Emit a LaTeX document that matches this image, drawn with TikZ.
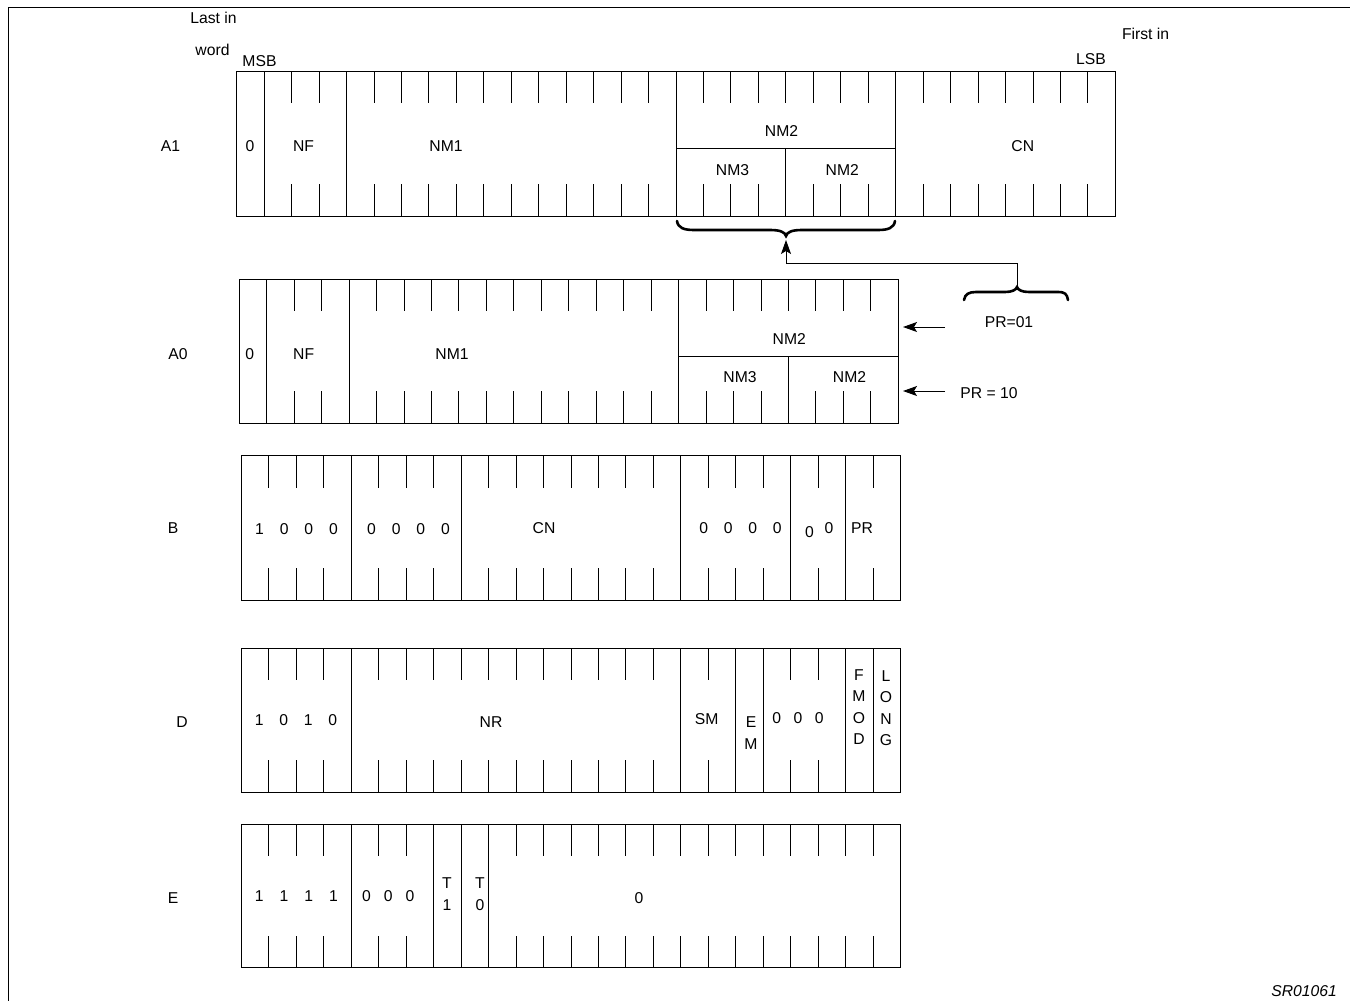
\documentclass[tikz,border=0pt]{standalone}
\usepackage{fontspec}
\setmainfont{Liberation Sans}
\usetikzlibrary{arrows.meta}
\newcommand\bw{27.46}
\newcommand\tl{32}
\tikzset{
  boxline/.style={line width=1pt},
  tickline/.style={line width=1pt},
  frameline/.style={line width=1pt},
  bracel/.style={line width=2.6pt, line cap=round},
  conn/.style={line width=1pt, -{Stealth[length=14pt,width=10pt,inset=3pt]}},
  lbl/.style={inner sep=0pt, font=\fontsize{15.7}{18}\selectfont},
  stack/.style={inner sep=0pt, align=center, font=\fontsize{15.7}{21.5}\selectfont},
}
\newcommand\bitrow[5]{%
  \draw[boxline] (#1,#2) rectangle ({#1+#3*\bw},{#2+#4});
  \pgfmathtruncatemacro\lastb{#3-1}
  \foreach \i in {1,...,\lastb}{
    \draw[tickline] ({#1+\i*\bw},#2) -- ++(0,\tl);
    \draw[tickline] ({#1+\i*\bw},{#2+#4}) -- ++(0,-\tl);
  }
  \foreach \s in {#5}{\draw[boxline] ({#1+\s*\bw},#2) -- ++(0,#4);}
}
\begin{document}
\begin{tikzpicture}[x=1pt,y=-1pt]
\useasboundingbox (0,0) rectangle (1350,1001);
% outer frame
\draw[frameline] (8,1001) -- (8,7) -- (1350,7);

% header labels
\node[lbl] (lastin) at (213.5,18) {Last in};
\node[lbl] (word) at (212.5,50) {word};
\node[lbl] (msb) at (259.5,61) {MSB};
\node[lbl] (firstin) at (1145.6,33.5) {First in};
\node[lbl] (lsb) at (1091,59) {LSB};

% ---------- A1 ----------
\bitrow{236.7}{71}{32}{145}{1,4,16,24}
\draw[boxline] ({236.7+16*\bw},148) -- ({236.7+24*\bw},148);
\draw[boxline] ({236.7+20*\bw},148) -- ({236.7+20*\bw},216);
\node[lbl] (rA1) at (170.5,146) {A1};
\node[lbl] (a1z) at (250,146) {0};
\node[lbl] (a1nf) at (303.5,146) {NF};
\node[lbl] (a1nm1) at (446,146) {NM1};
\node[lbl] (a1nm2t) at (781.5,131.5) {NM2};
\node[lbl] (a1nm3) at (732.5,170) {NM3};
\node[lbl] (a1nm2b) at (842.3,170) {NM2};
\node[lbl] (a1cn) at (1022.8,146) {CN};

% brace under A1 NM2 block
\draw[bracel] (677,221) .. controls (678,228) and (684,230) .. (694,230) -- (770,230)
  .. controls (780,230) and (785,232) .. (786,236)
  .. controls (787,232) and (792,230) .. (802,230) -- (878,230)
  .. controls (888,230) and (894,228) .. (895,221);
\coordinate (tipA) at (786,240);

% brace PR=01
\draw[bracel] (964,300) .. controls (965,294) and (969,292) .. (976,292) -- (1005,292)
  .. controls (1012,292) and (1016,290) .. (1017,287)
  .. controls (1018,290) and (1022,292) .. (1029,292) -- (1058,292)
  .. controls (1065,292) and (1067,294) .. (1068,300);
\coordinate (tipB) at (1017,287);
\draw[conn] (tipB) -- ++(0,-24) -| (tipA);

\node[lbl] (pr01) at (1009,322) {PR=01};
\node[lbl] (pr10) at (989,393) {PR = 10};
\coordinate (t01) at (945,327);
\coordinate (h01) at (903,327);
\coordinate (t10) at (945,391);
\coordinate (h10) at (903,391);
\draw[conn] (t01) -- (h01);
\draw[conn] (t10) -- (h10);

% ---------- A0 ----------
\bitrow{239.3}{279.3}{24}{144}{1,4,16}
\draw[boxline] ({239.3+16*\bw},356) -- ({239.3+24*\bw},356);
\draw[boxline] ({239.3+20*\bw},356) -- ({239.3+20*\bw},423.3);
\node[lbl] (rA0) at (178,354) {A0};
\node[lbl] (a0z) at (249.7,354) {0};
\node[lbl] (a0nf) at (303.7,354) {NF};
\node[lbl] (a0nm1) at (452,354) {NM1};
\node[lbl] (a0nm2t) at (789.3,338.7) {NM2};
\node[lbl] (a0nm3) at (740,377.5) {NM3};
\node[lbl] (a0nm2b) at (849.5,377.5) {NM2};

% ---------- B ----------
\bitrow{241.5}{455.7}{24}{144.3}{4,8,16,20,22}
\node[lbl] (rB) at (173,528) {B};
\node[lbl] (b1) at (296.5,529) {1\kern16pt0\kern16pt0\kern16pt0};
\node[lbl] (b2) at (408.5,529) {0\kern16pt0\kern16pt0\kern16pt0};
\node[lbl] (bcn) at (544,528) {CN};
\node[lbl] (b3) at (740.5,528) {0\kern15.7pt0\kern15.7pt0\kern15.7pt0};
\node[lbl] (b4a) at (809.5,532) {0};
\node[lbl] (b4b) at (829,528) {0};
\node[lbl] (bpr) at (862,528) {PR};

% ---------- D ----------
\bitrow{241.5}{648.3}{24}{144}{4,16,18,19,22,23}
\node[lbl] (rD) at (182,722) {D};
\node[lbl] (d1) at (296,720) {1\kern15.8pt0\kern15.8pt1\kern15.8pt0};
\node[lbl] (dnr) at (491,722) {NR};
\node[lbl] (dsm) at (706.7,719) {SM};
\node[stack] (dem) at (751,733) {E\\M};
\node[lbl] (d000) at (798,718) {0\kern12.5pt0\kern12.5pt0};
\node[stack] (dfmod) at (859,707) {F\\M\\O\\D};
\node[stack] (dlong) at (886,708) {L\\O\\N\\G};

% ---------- E ----------
\bitrow{241.5}{824}{24}{143.7}{4,7,8,9}
\node[lbl] (rE) at (173,898) {E};
\node[lbl] (e1) at (296.3,896) {1\kern16pt1\kern16pt1\kern16pt1};
\node[lbl] (e2) at (388.3,896) {0\kern13pt0\kern13pt0};
\node[stack] (et1) at (447,894) {T\\1};
\node[stack] (et0) at (480,894) {T\\0};
\node[lbl] (ez) at (639,898) {0};

\node[lbl, font=\fontsize{15.7}{18}\selectfont\itshape] (code) at (1304,991.5) {SR01061};
\end{tikzpicture}
\end{document}
